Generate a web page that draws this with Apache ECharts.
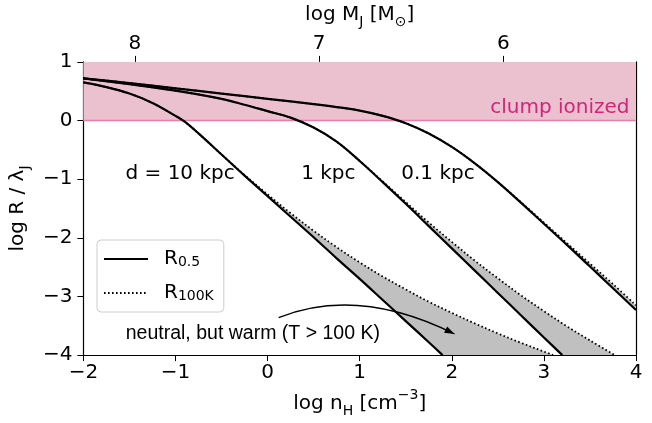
<!DOCTYPE html>
<html>
<head>
<meta charset="utf-8">
<script src="https://cdn.jsdelivr.net/npm/echarts@6/dist/echarts.min.js"></script>
<style>
  html, body { margin: 0; padding: 0; background: #ffffff; }
  #chart { width: 652px; height: 423px; }
</style>
</head>
<body>
<div id="chart"></div>
<script>
// Axis ranges and ticks
const xRange = [-2, 4];
const yRange = [-4, 1];
const massTickLabels = [8, 7, 6];            // log M_J [Msun]
const massTickPositions = [-1.44, 0.56, 2.56]; // log n_H where those masses fall

// Ionized region band (log R/lambda_J)
const ionizedBand = [0, 1];

// R_0.5 (solid) and R_100K (dotted) curves, [log n_H, log R/lambda_J]
const r05_10kpc = [[-2, 0.65], [-1.75, 0.57], [-1.5, 0.46], [-1.25, 0.30], [-1, 0.08], [-0.9, -0.02],
  [-0.75, -0.22], [-0.5, -0.58], [-0.25, -0.94], [0, -1.29], [0.25, -1.64], [0.5, -1.99],
  [0.75, -2.35], [1, -2.70], [1.25, -3.06], [1.5, -3.42], [1.75, -3.78], [1.9, -4]];
const r100_10kpc = [[-2, 0.65], [-1.75, 0.57], [-1.5, 0.46], [-1.25, 0.30], [-1, 0.08], [-0.9, -0.02],
  [-0.75, -0.22], [-0.5, -0.58], [-0.25, -0.93], [0, -1.26], [0.25, -1.58], [0.5, -1.88],
  [0.75, -2.16], [1, -2.42], [1.25, -2.66], [1.5, -2.88], [1.75, -3.09], [2, -3.28],
  [2.25, -3.46], [2.5, -3.63], [2.75, -3.79], [3, -3.94], [3.1, -4]];

const r05_1kpc = [[-2, 0.72], [-1.5, 0.62], [-1, 0.51], [-0.5, 0.37], [-0.25, 0.27], [0, 0.16],
  [0.25, 0.05], [0.5, -0.12], [0.75, -0.36], [1, -0.69], [1.25, -1.05], [1.5, -1.42],
  [1.75, -1.80], [2, -2.18], [2.25, -2.56], [2.5, -2.94], [2.75, -3.32], [3, -3.70], [3.2, -4]];
const r100_1kpc = [[-2, 0.72], [-1.5, 0.62], [-1, 0.51], [-0.5, 0.37], [-0.25, 0.27], [0, 0.16],
  [0.25, 0.05], [0.5, -0.12], [0.75, -0.36], [1, -0.69], [1.25, -1.04], [1.5, -1.39],
  [1.75, -1.74], [2, -2.07], [2.25, -2.39], [2.5, -2.69], [2.75, -2.98], [3, -3.25],
  [3.25, -3.51], [3.5, -3.75], [3.77, -4]];

const r05_01kpc = [[-2, 0.72], [-1.5, 0.64], [-1, 0.55], [-0.5, 0.46], [0, 0.37], [0.5, 0.28],
  [0.75, 0.23], [1, 0.17], [1.25, 0.08], [1.5, -0.045], [1.75, -0.22], [2, -0.45], [2.25, -0.73],
  [2.5, -1.05], [2.75, -1.40], [3, -1.76], [3.25, -2.12], [3.5, -2.49], [3.75, -2.86], [4, -3.23]];
const r100_01kpc = [[-2, 0.72], [-1.5, 0.64], [-1, 0.55], [-0.5, 0.46], [0, 0.37], [0.5, 0.28],
  [0.75, 0.23], [1, 0.17], [1.25, 0.08], [1.5, -0.045], [1.75, -0.22], [2, -0.45], [2.25, -0.73],
  [2.5, -1.05], [2.75, -1.39], [3, -1.74], [3.25, -2.09], [3.5, -2.44], [3.75, -2.79], [4, -3.15]];

// Text annotations placed in data units
const distanceLabels = ['d = 10 kpc', '1 kpc', '0.1 kpc'];
const distanceLabelPos = [[-0.95, -0.9], [0.66, -0.9], [1.85, -0.9]];
const ionizedLabel = 'clump ionized';
const ionizedLabelPos = [3.93, 0.21];
const warmLabel = 'neutral, but warm (T > 100 K)';
const warmLabelPos = [-1.54, -3.63];
// Curved arrow: start, control, end
const warmArrow = [[0.12, -3.36], [0.98, -2.82], [2.03, -3.64]];

const FONT = '"DejaVu Sans", sans-serif';
const PINK_FILL = '#ebc1d0';
const PINK_LINE = '#e87bb0';
const PINK_TEXT = '#d4237a';
const GRAY = '#c0c0c0';
const SMOOTH = 0.35;

const minus = v => String(v).replace('-', '\u2212');

const bands = [[r05_10kpc, r100_10kpc], [r05_1kpc, r100_1kpc], [r05_01kpc, r100_01kpc]];

const chart = echarts.init(document.getElementById('chart'), null, { renderer: 'canvas' });

const baseAxisLabel = { color: '#000', fontSize: 20, fontFamily: FONT };
const nameRich = {
  n: { fontSize: 20, fontFamily: FONT, color: '#000', lineHeight: 24, verticalAlign: 'bottom' },
  s: { fontSize: 14, fontFamily: FONT, color: '#000', lineHeight: 24, verticalAlign: 'bottom', padding: [0, 0, -4, 0] },
  p: { fontSize: 14, fontFamily: FONT, color: '#000', lineHeight: 24, verticalAlign: 'top', padding: [-2, 0, 0, 0] }
};

const solidStyle = { color: '#000', width: 2.2, type: 'solid' };
const dotStyle = { color: '#000', width: 1.8, type: [1.6, 2.4] };

function curveSeries(name, data, style) {
  return {
    name, type: 'line', data, showSymbol: false, symbol: 'none', smooth: SMOOTH,
    lineStyle: style, itemStyle: { color: '#000' }, z: 4, silent: true, animation: false
  };
}

const option = {
  backgroundColor: '#ffffff',
  animation: false,
  grid: { left: 83, right: 16, top: 59, bottom: 61 },
  legend: {
    left: 97, top: 240, orient: 'vertical',
    data: ['R0.5', 'R100K'],
    itemWidth: 44, itemHeight: 14, itemGap: 8,
    padding: [6, 10, 6, 6],
    borderColor: '#cccccc', borderWidth: 1, borderRadius: 4,
    backgroundColor: '#ffffff',
    itemStyle: { opacity: 0 },
    formatter: name => name === 'R0.5' ? '{r|R}{s|0.5}' : '{r|R}{s|100K}',
    textStyle: {
      lineHeight: 26,
      rich: {
        r: { fontSize: 20, fontFamily: FONT, color: '#000', lineHeight: 26, padding: [0, 0, 0, 11] },
        s: { fontSize: 14, fontFamily: FONT, color: '#000', lineHeight: 20, padding: [7, 0, 0, 0] }
      }
    }
  },
  xAxis: [
    {
      type: 'value', position: 'bottom', min: xRange[0], max: xRange[1], interval: 1,
      axisLine: { show: true, onZero: false, lineStyle: { color: '#000', width: 1.2 } },
      axisTick: { show: true, inside: false, length: 6, lineStyle: { color: '#000', width: 1 } },
      axisLabel: Object.assign({ margin: 8, formatter: minus }, baseAxisLabel),
      splitLine: { show: false },
      name: '{n|log n}{s|H}{n| [cm}{p|\u22123}{n|]}',
      nameLocation: 'middle', nameGap: 33,
      nameTextStyle: { rich: nameRich }
    },
    {
      type: 'value', position: 'top', min: xRange[0], max: xRange[1],
      axisLine: { show: true, onZero: false, lineStyle: { color: '#000', width: 1.2 } },
      axisTick: { show: true, inside: false, length: 6, customValues: massTickPositions, lineStyle: { color: '#000', width: 1 } },
      axisLabel: Object.assign({
        margin: 8,
        customValues: massTickPositions,
        formatter: v => {
          let best = 0;
          massTickPositions.forEach((p, i) => { if (Math.abs(p - v) < Math.abs(massTickPositions[best] - v)) best = i; });
          return String(massTickLabels[best]);
        }
      }, baseAxisLabel),
      splitLine: { show: false },
      name: '{n|log M}{s|J}{n| [M}{s|\u2299}{n|]}',
      nameLocation: 'middle', nameGap: 32,
      nameTextStyle: { rich: nameRich }
    }
  ],
  yAxis: [
    {
      type: 'value', position: 'left', min: yRange[0], max: yRange[1], interval: 1,
      axisLine: { show: true, onZero: false, lineStyle: { color: '#000', width: 1.2 } },
      axisTick: { show: true, inside: false, length: 6, lineStyle: { color: '#000', width: 1 } },
      axisLabel: Object.assign({ margin: 11, formatter: minus }, baseAxisLabel),
      splitLine: { show: false },
      name: '{n|log R / \u03bb}{s|J}',
      nameLocation: 'middle', nameGap: 51, nameRotate: 90,
      nameTextStyle: { rich: nameRich }
    },
    {
      type: 'value', position: 'right', min: yRange[0], max: yRange[1], interval: 1,
      axisLine: { show: true, onZero: false, lineStyle: { color: '#000', width: 1.2 } },
      axisTick: { show: false }, axisLabel: { show: false }, splitLine: { show: false }
    }
  ],
  series: [
    // ionized region band and its lower boundary
    {
      type: 'custom', z: 1, silent: true, animation: false,
      data: [[xRange[0], ionizedBand[0]]],
      renderItem(params, api) {
        const cs = params.coordSys;
        const yTop = api.coord([xRange[0], ionizedBand[1]])[1];
        const yBot = api.coord([xRange[0], ionizedBand[0]])[1];
        return {
          type: 'group', children: [
            { type: 'rect', shape: { x: cs.x, y: yTop, width: cs.width, height: yBot - yTop }, style: { fill: PINK_FILL } },
            { type: 'line', shape: { x1: cs.x, y1: yBot, x2: cs.x + cs.width, y2: yBot }, style: { stroke: PINK_LINE, lineWidth: 1.6 } }
          ]
        };
      }
    },
    // shaded "neutral but warm" zones between R_0.5 and R_100K
    {
      type: 'custom', z: 2, silent: true, animation: false,
      data: bands.map(b => [b[0][0][0], b[0][0][1]]),
      renderItem(params, api) {
        const pair = bands[params.dataIndex];
        const upper = pair[1].slice().reverse().map(p => api.coord(p));
        const lower = pair[0].map(p => api.coord(p));
        return { type: 'polygon', shape: { points: lower.concat(upper) }, style: { fill: GRAY, stroke: null } };
      }
    },
    curveSeries('R0.5', r05_10kpc, solidStyle),
    curveSeries('R100K', r100_10kpc, dotStyle),
    curveSeries('R0.5', r05_1kpc, solidStyle),
    curveSeries('R100K', r100_1kpc, dotStyle),
    curveSeries('R0.5', r05_01kpc, solidStyle),
    curveSeries('R100K', r100_01kpc, dotStyle),
    // text annotations and curved arrow
    {
      type: 'custom', z: 6, silent: true, animation: false,
      data: [[xRange[0], yRange[0]]],
      renderItem(params, api) {
        const children = [];
        distanceLabels.forEach((t, i) => {
          const c = api.coord(distanceLabelPos[i]);
          children.push({ type: 'text', style: { text: t, x: c[0], y: c[1], align: 'center', verticalAlign: 'middle', fontSize: 20, fontFamily: FONT, fill: '#000' } });
        });
        const ci = api.coord(ionizedLabelPos);
        children.push({ type: 'text', style: { text: ionizedLabel, x: ci[0], y: ci[1], align: 'right', verticalAlign: 'middle', fontSize: 20, fontFamily: FONT, fill: PINK_TEXT } });
        const cw = api.coord(warmLabelPos);
        children.push({ type: 'text', style: { text: warmLabel, x: cw[0], y: cw[1], align: 'left', verticalAlign: 'middle', fontSize: 19.5, fontFamily: '"Liberation Sans", Arial, sans-serif', fill: '#000' } });
        const a = warmArrow.map(p => api.coord(p));
        children.push({
          type: 'bezierCurve',
          shape: { x1: a[0][0], y1: a[0][1], cpx1: a[1][0], cpy1: a[1][1], x2: a[2][0], y2: a[2][1] },
          style: { stroke: '#000', lineWidth: 1.3, fill: null }
        });
        // arrow head along the final tangent
        const dx = a[2][0] - a[1][0], dy = a[2][1] - a[1][1];
        const len = Math.hypot(dx, dy), ux = dx / len, uy = dy / len;
        const hl = 10, hw = 3.5;
        const bx = a[2][0] - ux * hl, by = a[2][1] - uy * hl;
        children.push({
          type: 'polygon',
          shape: { points: [[a[2][0], a[2][1]], [bx - uy * hw, by + ux * hw], [bx + uy * hw, by - ux * hw]] },
          style: { fill: '#000', stroke: null }
        });
        return { type: 'group', children };
      }
    }
  ]
};

chart.setOption(option);
</script>
</body>
</html>
